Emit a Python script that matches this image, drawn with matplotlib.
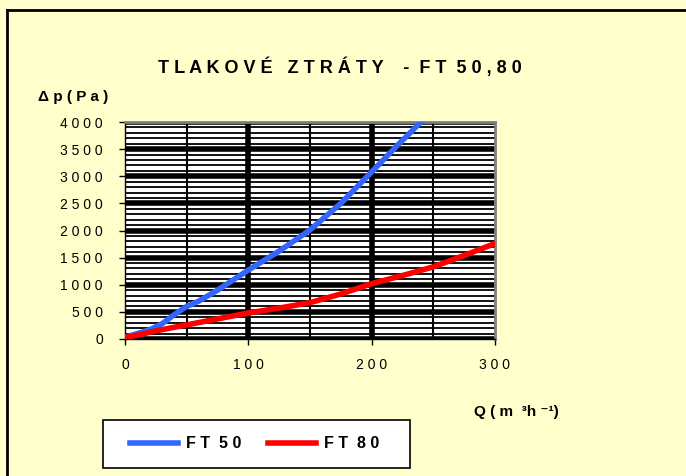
import matplotlib

matplotlib.use("Agg")
import matplotlib.pyplot as plt
from matplotlib.lines import Line2D
from matplotlib.patches import Rectangle
import numpy as np

plt.rcParams["font.family"] = ["Liberation Sans", "DejaVu Sans"]

# flow Q (m3/h) and pressure loss (Pa)
q_ft50 = [0, 10, 20, 30, 40, 50, 60, 75, 100, 125, 150, 175, 200, 220, 240]
dp_ft50 = [30, 100, 170, 280, 450, 600, 700, 900, 1270, 1620, 2010, 2500, 3080, 3550, 4000]
q_ft80 = [0, 10, 25, 50, 75, 100, 125, 150, 175, 200, 225, 250, 275, 300]
dp_ft80 = [30, 70, 150, 260, 370, 480, 570, 670, 830, 1020, 1170, 1330, 1540, 1760]

y_ticks = [0, 500, 1000, 1500, 2000, 2500, 3000, 3500, 4000]
x_ticks = [0, 100, 200, 300]
series_names = ["FT 50", "FT 80"]


def spaced(text):
    return " ".join(text)


bg = "#FFFFCC"
W, H = 686, 476
fig = plt.figure(figsize=(6.86, 4.76), dpi=100, facecolor=bg)
ax = fig.add_axes([125 / W, 1 - 339 / H, 370 / W, 217 / H])
ax.set_facecolor("white")

# dense hatching of the plot area
for v in np.arange(0, 4001, 100):
    ax.axhline(v, color="black", lw=1.3, zorder=1)
for v in y_ticks:
    ax.axhline(v, color="black", lw=4, zorder=1)
for v in [50, 150, 250]:
    ax.axvline(v, color="black", lw=1.5, zorder=1)
for v in [100, 200]:
    ax.axvline(v, color="black", lw=4, zorder=1)

colors = ["#3366FF", "#FF0000"]
ax.plot(q_ft50, dp_ft50, color=colors[0], lw=4, zorder=3)
ax.plot(q_ft80, dp_ft80, color=colors[1], lw=4, zorder=3)

ax.set_xlim(0, 300)
ax.set_ylim(0, 4000)
ax.set_xticks(x_ticks)
ax.set_yticks(y_ticks)
ax.set_xticklabels([spaced(str(t)) for t in x_ticks], fontsize=10)
ax.set_yticklabels([spaced(str(t)) for t in y_ticks], fontsize=10)
ax.tick_params(length=4, width=1, direction="out", pad=10, axis="x")
ax.tick_params(length=4, width=1, direction="out", pad=12, axis="y")
for side in ["top", "right"]:
    ax.spines[side].set_color("#808080")
    ax.spines[side].set_linewidth(2)
for side in ["left", "bottom"]:
    ax.spines[side].set_color("black")
    ax.spines[side].set_linewidth(1)

fig.text(340 / W, 1 - 67 / H, "T L A K O V É   Z T R Á T Y    -  F T  5 0 , 8 0",
         ha="center", va="center", fontsize=13, fontweight="bold")
fig.text(38 / W, 1 - 97 / H, "Δ p ( P a )", ha="left", va="center",
         fontsize=11, fontweight="bold")
fig.text(474 / W, 1 - 412 / H, "Q ( m  ³h ⁻¹)", ha="left", va="center",
         fontsize=11, fontweight="bold")

# legend box
fig.add_artist(Rectangle((103 / W, 1 - 468 / H), 307 / W, 48 / H, transform=fig.transFigure,
                         facecolor="white", edgecolor="black", lw=1.2))
handles = [Line2D([], [], color=c, lw=4) for c in colors]
labels = [spaced(n.split()[0]) + "  " + spaced(n.split()[1]) for n in series_names]
leg = fig.legend(handles, labels, loc="center left", bbox_to_anchor=(130 / W, 1 - 444 / H),
                 ncol=2, frameon=False, handlelength=3.0, handletextpad=0.5,
                 columnspacing=1.7, borderpad=0, borderaxespad=0,
                 prop={"weight": "bold", "size": 11.5})

fig.add_artist(Line2D([7 / W, 7 / W], [0, 1 - 10 / H], color="black", lw=2))
fig.add_artist(Line2D([7 / W, 1], [1 - 10 / H, 1 - 10 / H], color="black", lw=2))

fig.savefig("out.png", dpi=100, facecolor=bg)
